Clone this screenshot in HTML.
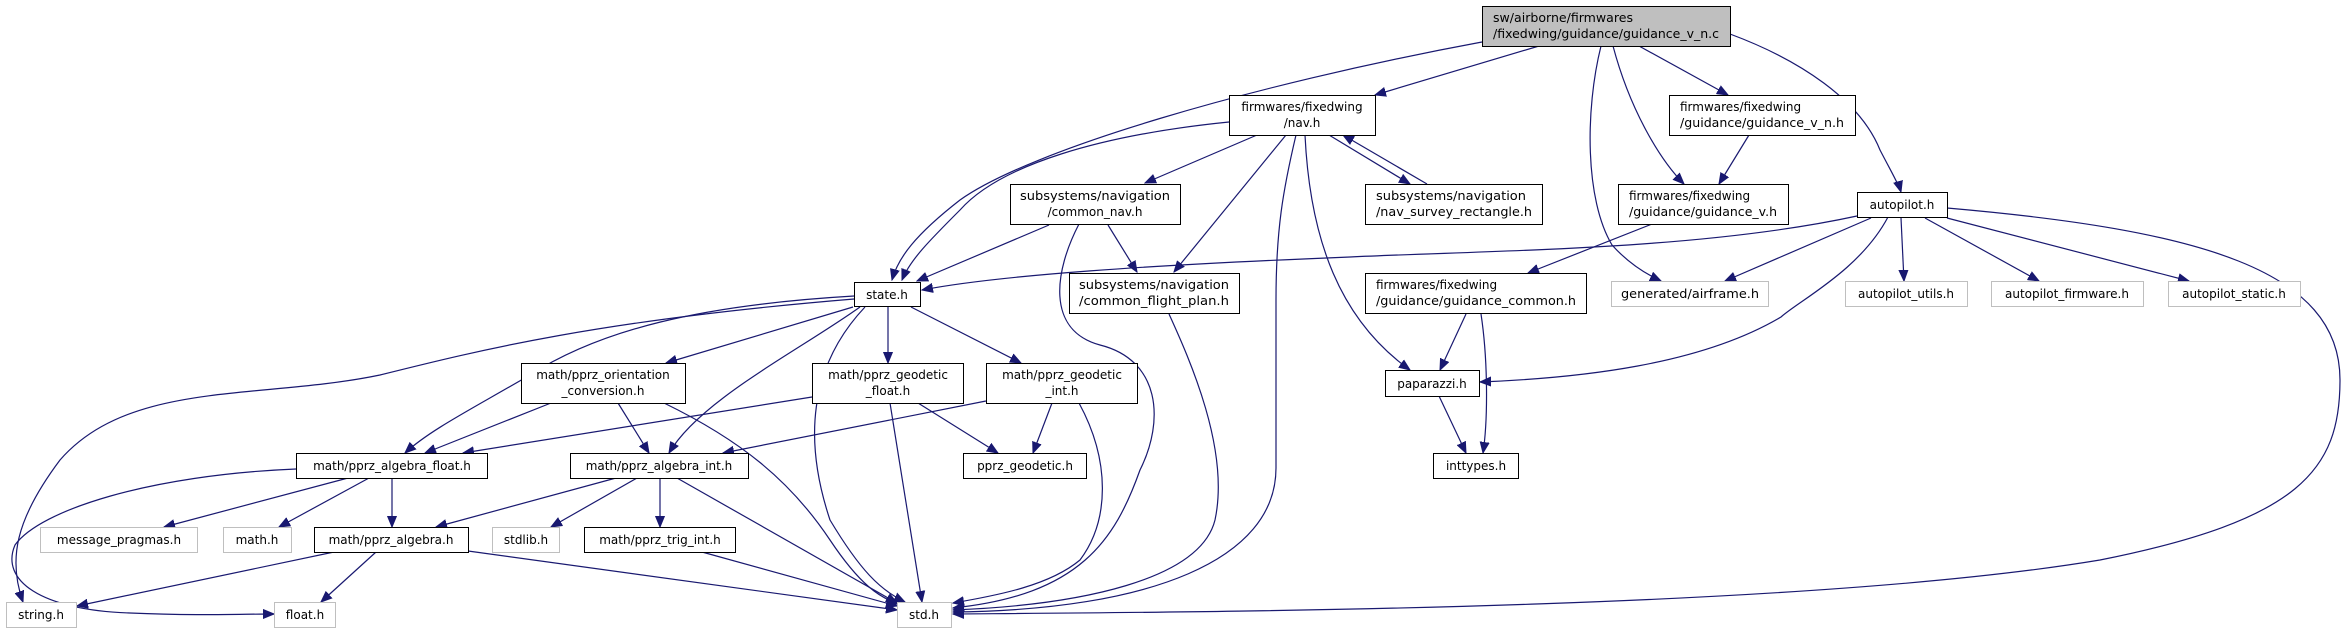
<!DOCTYPE html>
<html><head><meta charset="utf-8"><style>
html,body{margin:0;padding:0;background:#fff;}
svg{display:block;}
text{font-family:"DejaVu Sans","Liberation Sans",sans-serif;font-size:12px;fill:#000;}
.e{fill:none;stroke:#191970;stroke-width:1.2;marker-end:url(#a);}
.b{fill:#fff;stroke:#000;stroke-width:1;}
.g{fill:#fff;stroke:#bfbfbf;stroke-width:1;}
</style></head><body>
<svg width="2346" height="633" viewBox="0 0 2346 633" xmlns="http://www.w3.org/2000/svg">
<defs><marker id="a" markerUnits="userSpaceOnUse" markerWidth="12" markerHeight="10" refX="11" refY="5" orient="auto"><path d="M0,0.5 L11,5 L0,9.5 z" fill="#191970" stroke="#191970"/></marker></defs>

<!-- edges -->
<path class="e" d="M1482,42 C1250,85 1030,150 960,200 C915,235 898,258 892,280"/>
<path class="e" d="M1539,46 L1375,95"/>
<path class="e" d="M1601,46 C1585,110 1585,200 1612,245 C1630,265 1648,275 1661,281"/>
<path class="e" d="M1613,46 C1630,110 1660,160 1684,184"/>
<path class="e" d="M1639,46 L1728,95"/>
<path class="e" d="M1730,34 C1800,60 1860,100 1880,150 C1893,175 1899,185 1901,192"/>
<path class="e" d="M1749,135 L1719,184"/>
<path class="e" d="M1652,224 L1528,273"/>
<path class="e" d="M1466,314 L1440,370"/>
<path class="e" d="M1481,314 C1488,360 1488,420 1483,453"/>
<path class="e" d="M1439,396 L1466,453"/>
<path class="e" d="M1888,217 C1860,270 1800,300 1781,317 C1700,365 1580,378 1480,382"/>
<path class="e" d="M1871,218 L1725,281"/>
<path class="e" d="M1901,218 L1904,281"/>
<path class="e" d="M1925,218 L2039,281"/>
<path class="e" d="M1947,218 L2189,281"/>
<path class="e" d="M1857,216 C1700,250 1500,250 1350,257 C1150,265 1000,275 922,290"/>
<path class="e" d="M1947,208 C2200,230 2340,270 2340,380 C2340,470 2300,520 2100,560 C1800,610 1200,612 953,614"/>
<path class="e" d="M1229,122 C1100,135 1000,165 960,210 C930,240 910,260 902,280"/>
<path class="e" d="M1257,135 L1145,183"/>
<path class="e" d="M1286,135 L1174,272"/>
<path class="e" d="M1296,135 C1283,190 1276,230 1276,300 L1276,468 C1276,560 1150,610 953,612"/>
<path class="e" d="M1305,135 C1310,240 1340,320 1410,370"/>
<path class="e" d="M1329,135 L1410,184"/>
<path class="e" d="M1427,184 L1343,135"/>
<path class="e" d="M1049,225 L917,281"/>
<path class="e" d="M1108,225 L1137,272"/>
<path class="e" d="M1079,224 C1055,270 1045,330 1100,345 C1160,360 1165,420 1140,470 C1115,540 1080,595 953,608"/>
<path class="e" d="M1169,314 C1190,360 1230,450 1215,520 C1200,580 1080,605 953,610"/>
<path class="e" d="M854,299 C600,320 480,350 380,375 C260,400 130,380 60,460 C15,520 8,560 23,602"/>
<path class="e" d="M854,296 C700,305 600,330 530,375 C470,410 430,430 405,453"/>
<path class="e" d="M853,307 L666,363"/>
<path class="e" d="M860,307 C800,350 700,400 669,453"/>
<path class="e" d="M865,307 C815,360 800,430 830,520 C860,570 880,590 905,602"/>
<path class="e" d="M888,307 L888,363"/>
<path class="e" d="M911,307 L1021,363"/>
<path class="e" d="M551,403 L425,453"/>
<path class="e" d="M618,403 L649,453"/>
<path class="e" d="M664,403 C740,440 790,480 830,540 C860,585 880,598 899,604"/>
<path class="e" d="M812,397 L463,453"/>
<path class="e" d="M890,403 L922,602"/>
<path class="e" d="M918,403 L998,453"/>
<path class="e" d="M986,401 L723,453"/>
<path class="e" d="M1052,403 L1033,453"/>
<path class="e" d="M1079,403 C1110,460 1110,520 1080,560 C1050,585 1000,595 953,603"/>
<path class="e" d="M296,469 C150,475 40,510 15,545 C0,580 40,610 130,613 C200,616 240,614 274,614"/>
<path class="e" d="M348,478 L164,527"/>
<path class="e" d="M369,478 L279,527"/>
<path class="e" d="M392,478 L392,527"/>
<path class="e" d="M616,478 L436,527"/>
<path class="e" d="M637,478 L551,527"/>
<path class="e" d="M660,478 L660,527"/>
<path class="e" d="M677,478 L897,603"/>
<path class="e" d="M334,552 L77,606"/>
<path class="e" d="M376,552 L321,602"/>
<path class="e" d="M468,551 L897,610"/>
<path class="e" d="M702,552 L897,606"/>

<!-- nodes -->
<rect x="1482.5" y="6.5" width="248" height="40" fill="#bfbfbf" stroke="#000"/>
<text x="1493" y="22" textLength="140" lengthAdjust="spacingAndGlyphs">sw/airborne/firmwares</text>
<text x="1493" y="38" textLength="226" lengthAdjust="spacingAndGlyphs">/fixedwing/guidance/guidance_v_n.c</text>

<rect class="b" x="1229.5" y="95.5" width="146" height="40"/>
<text x="1302" y="111" text-anchor="middle">firmwares/fixedwing</text>
<text x="1302" y="127" text-anchor="middle">/nav.h</text>

<rect class="b" x="1669.5" y="95.5" width="186" height="40"/>
<text x="1680" y="111">firmwares/fixedwing</text>
<text x="1680" y="127" textLength="164" lengthAdjust="spacingAndGlyphs">/guidance/guidance_v_n.h</text>

<rect class="b" x="1010.5" y="184.5" width="170" height="40"/>
<text x="1095" y="200" text-anchor="middle" textLength="150" lengthAdjust="spacingAndGlyphs">subsystems/navigation</text>
<text x="1095" y="216" text-anchor="middle">/common_nav.h</text>

<rect class="b" x="1365.5" y="184.5" width="177" height="40"/>
<text x="1376" y="200" textLength="150" lengthAdjust="spacingAndGlyphs">subsystems/navigation</text>
<text x="1376" y="216" textLength="156" lengthAdjust="spacingAndGlyphs">/nav_survey_rectangle.h</text>

<rect class="b" x="1618.5" y="184.5" width="170" height="40"/>
<text x="1629" y="200">firmwares/fixedwing</text>
<text x="1629" y="216" textLength="148" lengthAdjust="spacingAndGlyphs">/guidance/guidance_v.h</text>

<rect class="b" x="1857.5" y="192.5" width="90" height="25"/>
<text x="1902" y="209" text-anchor="middle">autopilot.h</text>

<rect class="b" x="854.5" y="282.5" width="66" height="24"/>
<text x="887" y="299" text-anchor="middle">state.h</text>

<rect class="b" x="1069.5" y="273.5" width="170" height="40"/>
<text x="1154" y="289" text-anchor="middle" textLength="150" lengthAdjust="spacingAndGlyphs">subsystems/navigation</text>
<text x="1154" y="305" text-anchor="middle" textLength="150" lengthAdjust="spacingAndGlyphs">/common_flight_plan.h</text>

<rect class="b" x="1365.5" y="273.5" width="221" height="40"/>
<text x="1376" y="289">firmwares/fixedwing</text>
<text x="1376" y="305" textLength="200" lengthAdjust="spacingAndGlyphs">/guidance/guidance_common.h</text>

<rect class="g" x="1611.5" y="281.5" width="157" height="25"/>
<text x="1690" y="298" text-anchor="middle" textLength="138" lengthAdjust="spacingAndGlyphs">generated/airframe.h</text>
<rect class="g" x="1845.5" y="281.5" width="122" height="25"/>
<text x="1906" y="298" text-anchor="middle">autopilot_utils.h</text>
<rect class="g" x="1991.5" y="281.5" width="152" height="25"/>
<text x="2067" y="298" text-anchor="middle">autopilot_firmware.h</text>
<rect class="g" x="2168.5" y="281.5" width="132" height="25"/>
<text x="2234" y="298" text-anchor="middle">autopilot_static.h</text>

<rect class="b" x="521.5" y="363.5" width="164" height="40"/>
<text x="603" y="379" text-anchor="middle">math/pprz_orientation</text>
<text x="603" y="395" text-anchor="middle">_conversion.h</text>

<rect class="b" x="812.5" y="363.5" width="151" height="40"/>
<text x="888" y="379" text-anchor="middle">math/pprz_geodetic</text>
<text x="888" y="395" text-anchor="middle">_float.h</text>

<rect class="b" x="986.5" y="363.5" width="151" height="40"/>
<text x="1062" y="379" text-anchor="middle">math/pprz_geodetic</text>
<text x="1062" y="395" text-anchor="middle">_int.h</text>

<rect class="b" x="1385.5" y="370.5" width="94" height="26"/>
<text x="1432" y="388" text-anchor="middle">paparazzi.h</text>

<rect class="b" x="296.5" y="453.5" width="191" height="25"/>
<text x="392" y="470" text-anchor="middle">math/pprz_algebra_float.h</text>
<rect class="b" x="570.5" y="453.5" width="178" height="25"/>
<text x="659" y="470" text-anchor="middle">math/pprz_algebra_int.h</text>
<rect class="b" x="963.5" y="453.5" width="123" height="25"/>
<text x="1025" y="470" text-anchor="middle">pprz_geodetic.h</text>
<rect class="b" x="1433.5" y="453.5" width="85" height="25"/>
<text x="1476" y="470" text-anchor="middle">inttypes.h</text>

<rect class="g" x="40.5" y="527.5" width="157" height="25"/>
<text x="119" y="544" text-anchor="middle">message_pragmas.h</text>
<rect class="g" x="223.5" y="527.5" width="68" height="25"/>
<text x="257" y="544" text-anchor="middle">math.h</text>
<rect class="b" x="314.5" y="527.5" width="154" height="25"/>
<text x="391" y="544" text-anchor="middle">math/pprz_algebra.h</text>
<rect class="g" x="492.5" y="527.5" width="67" height="25"/>
<text x="526" y="544" text-anchor="middle">stdlib.h</text>
<rect class="b" x="584.5" y="527.5" width="151" height="25"/>
<text x="660" y="544" text-anchor="middle">math/pprz_trig_int.h</text>

<rect class="g" x="6.5" y="602.5" width="70" height="25"/>
<text x="41" y="619" text-anchor="middle">string.h</text>
<rect class="g" x="274.5" y="602.5" width="61" height="25"/>
<text x="305" y="619" text-anchor="middle">float.h</text>
<rect class="g" x="897.5" y="602.5" width="54" height="25"/>
<text x="924" y="619" text-anchor="middle">std.h</text>
</svg>
</body></html>
